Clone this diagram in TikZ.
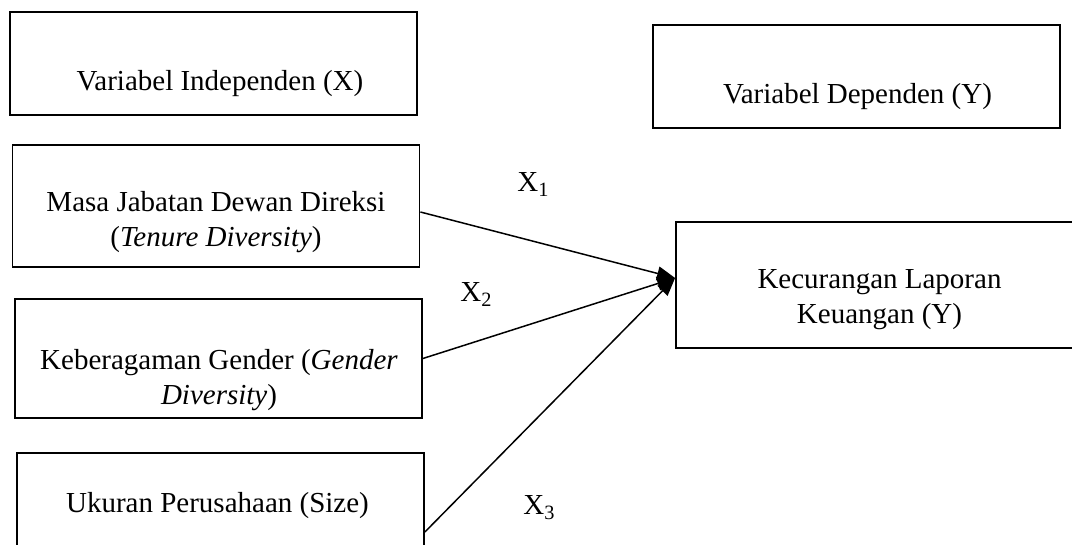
\documentclass[tikz,border=0pt]{standalone}
\usepackage{fontspec}
\setmainfont{Liberation Serif}
\usetikzlibrary{arrows.meta}
\tikzset{
	box/.style={draw,line width=0.9pt,minimum width=203.5pt,inner sep=0pt},
	txt/.style={inner sep=0pt,anchor=base,align=center,font=\fontsize{14.5}{17.5}\selectfont},
	arr/.style={line width=0.75pt,-{Triangle[length=9pt,width=7pt]}}
}
\begin{document}
\begin{tikzpicture}[x=0.5pt,y=-0.5pt]
\useasboundingbox (0,0) rectangle (1072,545);
\clip (0,0) rectangle (1072,545);
\node[box,minimum height=51.5pt] (indep) at (213.5,63.5) {};
\node[box,minimum height=51.5pt] (dep) at (856.5,76.5) {};
\node[box,minimum height=61pt] (masa) at (216,206) {};
\node[box,minimum height=59.5pt] (gender) at (218.5,358.5) {};
\node[box,minimum height=50pt] (size) at (220.5,503) {};
\node[box,minimum height=63pt] (fraud) at (879.5,285) {};
\node[txt] (tindep) at (220,91) {Variabel Independen (X)};
\node[txt] (tdep) at (857.5,104) {Variabel Dependen (Y)};
\node[txt] (tmasa) at (216,247) {Masa Jabatan Dewan Direksi\\(\textit{Tenure Diversity})};
\node[txt] (tgender) at (219,405) {Keberagaman Gender (\textit{Gender}\\\textit{Diversity})};
\node[txt] (tsize) at (217.5,512) {Ukuran Perusahaan (Size)};
\node[txt] (tfraud) at (879.5,324) {Kecurangan Laporan\\Keuangan (Y)};
\draw[arr] ([yshift=-3pt]masa.east) -- ([yshift=3.5pt]fraud.west);
\draw[arr] (gender.east) -- ([yshift=3.5pt]fraud.west);
\draw[arr] ([yshift=-14.5pt]size.east) -- ([yshift=3.5pt]fraud.west);
\node[txt,anchor=base west] (x1) at (517,192) {X\textsubscript{1}};
\node[txt,anchor=base west] (x2) at (460,302) {X\textsubscript{2}};
\node[txt,anchor=base west] (x3) at (523,515) {X\textsubscript{3}};
\end{tikzpicture}
\end{document}
